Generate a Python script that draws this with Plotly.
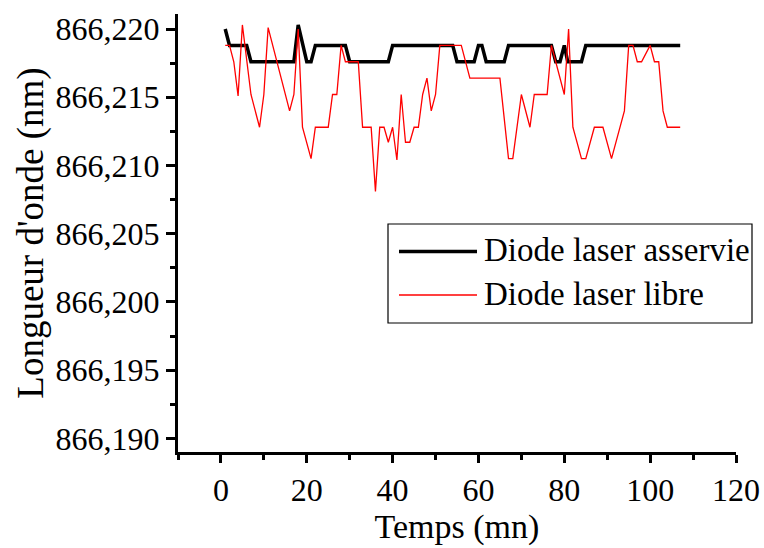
import plotly.graph_objects as go

# Wavelength stability of the laser diode, locked vs free-running
series_names = ["Diode laser asservie", "Diode laser libre"]

temps_asservie = [1, 2, 6, 7, 17, 18, 20, 21, 22, 29, 30, 39, 40, 54, 55, 59,
                  60, 60.8, 61.8, 66, 67, 77, 78, 79, 80, 80.8, 84, 85, 107]
lambda_asservie = [866.2200, 866.2188, 866.2188, 866.2176, 866.2176, 866.2203,
                   866.2176, 866.2176, 866.2188, 866.2188, 866.2176, 866.2176,
                   866.2188, 866.2188, 866.2176, 866.2176, 866.2188, 866.2188,
                   866.2176, 866.2176, 866.2188, 866.2188, 866.2176, 866.2176,
                   866.2188, 866.2176, 866.2176, 866.2188, 866.2188]

temps_libre = [1, 2, 3, 4, 5, 7, 9, 10, 11, 16, 17, 18, 19, 21, 22, 25, 26, 27,
               28, 29, 32, 33, 35, 36, 37, 38, 39, 40, 41, 42, 43, 44, 45, 46,
               47, 48, 49, 50, 51, 56, 58, 65, 67, 68, 70, 72, 73, 76, 77, 80,
               81, 82, 84, 85, 87, 89, 91, 94, 95, 96, 97, 98, 100, 101, 102,
               103, 104, 107]
lambda_libre = [866.2188, 866.2188, 866.2176, 866.2151, 866.2203, 866.2152,
                866.2128, 866.2152, 866.2201, 866.2140, 866.2152, 866.2200,
                866.2128, 866.2105, 866.2128, 866.2128, 866.2152, 866.2152,
                866.2188, 866.2176, 866.2176, 866.2128, 866.2128, 866.2081,
                866.2128, 866.2128, 866.2117, 866.2128, 866.2104, 866.2152,
                866.2117, 866.2117, 866.2128, 866.2128, 866.2152, 866.2164,
                866.2140, 866.2152, 866.2188, 866.2188, 866.2164, 866.2164,
                866.2105, 866.2105, 866.2152, 866.2128, 866.2152, 866.2152,
                866.2188, 866.2152, 866.2200, 866.2128, 866.2105, 866.2105,
                866.2128, 866.2128, 866.2105, 866.2140, 866.2188, 866.2188,
                866.2176, 866.2176, 866.2188, 866.2176, 866.2176, 866.2140,
                866.2128, 866.2128]

x_tick_vals = [0, 20, 40, 60, 80, 100, 120]
y_tick_vals = [866.190, 866.195, 866.200, 866.205, 866.210, 866.215, 866.220]
y_tick_text = ["866,190", "866,195", "866,200", "866,205", "866,210",
               "866,215", "866,220"]

FONT = "Liberation Serif, Times New Roman, serif"
W, H = 764, 548
PL, PR, PT, PB = 178, 736, 14, 452   # plot area in pixels


def fx(p):
    return (p - PL) / (PR - PL)


def fy(p):
    return (PB - p) / (PB - PT)


fig = go.Figure()
fig.add_trace(go.Scatter(x=temps_asservie, y=lambda_asservie, mode="lines",
                         name=series_names[0], showlegend=False,
                         line=dict(color="black", width=3.5)))
fig.add_trace(go.Scatter(x=temps_libre, y=lambda_libre, mode="lines",
                         name=series_names[1], showlegend=False,
                         line=dict(color="#ff0000", width=1.3)))

# legend box drawn by hand so the line samples are long
shapes = [
    dict(type="rect", xref="paper", yref="paper", x0=fx(388), x1=fx(752),
         y0=fy(323), y1=fy(224), line=dict(color="black", width=1.2),
         fillcolor="white", layer="above"),
    dict(type="line", xref="paper", yref="paper", x0=fx(399), x1=fx(477),
         y0=fy(251.5), y1=fy(251.5), line=dict(color="black", width=3.5),
         layer="above"),
    dict(type="line", xref="paper", yref="paper", x0=fx(399), x1=fx(477),
         y0=fy(295), y1=fy(295), line=dict(color="#ff0000", width=1.3),
         layer="above"),
]
annotations = [
    dict(text=series_names[0], xref="paper", yref="paper", x=fx(482),
         y=fy(250), xanchor="left", yanchor="middle", showarrow=False,
         font=dict(family=FONT, size=33, color="black")),
    dict(text=series_names[1], xref="paper", yref="paper", x=fx(482),
         y=fy(294), xanchor="left", yanchor="middle", showarrow=False,
         font=dict(family=FONT, size=33, color="black")),
]

fig.update_layout(
    width=W, height=H,
    margin=dict(l=PL, r=W - PR, t=PT, b=H - PB, autoexpand=False),
    paper_bgcolor="white", plot_bgcolor="white",
    font=dict(family=FONT, color="black"),
    shapes=shapes, annotations=annotations,
    showlegend=False,
)

fig.update_xaxes(
    range=[-10, 120], tickmode="array", tickvals=x_tick_vals,
    ticks="outside", ticklen=8, tickwidth=2.5, tickcolor="black",
    showline=True, linewidth=3, linecolor="black", mirror=False,
    showgrid=False, zeroline=False,
    tickfont=dict(family=FONT, size=32),
    minor=dict(tickmode="linear", tick0=-10, dtick=10, ticks="outside",
               ticklen=5, tickwidth=2.5, tickcolor="black", showgrid=False),
    title=dict(text="Temps (mn)", font=dict(family=FONT, size=34), standoff=4),
    automargin=False,
)
fig.update_yaxes(
    range=[866.1890, 866.2211], tickmode="array", tickvals=y_tick_vals,
    ticktext=y_tick_text,
    ticks="outside", ticklen=9, tickwidth=2.5, tickcolor="black",
    showline=True, linewidth=3, linecolor="black", mirror=False,
    showgrid=False, zeroline=False,
    tickfont=dict(family=FONT, size=32),
    minor=dict(tickmode="linear", tick0=866.1875, dtick=0.0025,
               ticks="outside", ticklen=5, tickwidth=2.5, tickcolor="black",
               showgrid=False),
    title=dict(text="Longueur d'onde (nm)", font=dict(family=FONT, size=37),
               standoff=1),
    automargin=False,
)

fig.write_html("out.html")
